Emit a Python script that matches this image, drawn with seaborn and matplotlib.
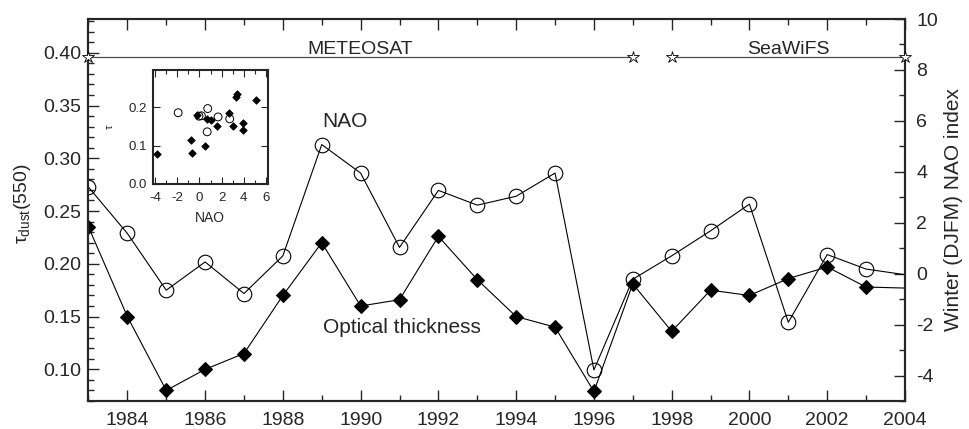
import matplotlib
matplotlib.use("Agg")
import matplotlib.pyplot as plt
from matplotlib.ticker import MultipleLocator, FormatStrFormatter
import numpy as np
import pandas as pd
import seaborn as sns

# ---------------- data ----------------
years = list(range(1983, 2005))
tau = [0.235, 0.150, 0.080, 0.100, 0.115, 0.170, 0.220, 0.160, 0.166, 0.226,
       0.185, 0.150, 0.140, 0.079, 0.181, 0.136, 0.175, 0.170, 0.186, 0.197,
       0.178, 0.177]
nao = [3.40, 1.58, -0.65, 0.46, -0.78, 0.70, 5.07, 3.95, 1.03, 3.27,
       2.69, 3.04, 3.95, -3.78, -0.22, 0.70, 1.68, 2.73, -1.91, 0.75,
       0.18, -0.04]
sensors = ["METEOSAT", "SeaWiFS"]
sensor_start = [1983, 1998]
sensor_end = [1997, 2004]
sensor_level = 8.5

# ---------------- style ----------------
sns.set_style("ticks")
plt.rcParams["font.family"] = ["Liberation Sans", "DejaVu Sans"]
plt.rcParams["mathtext.fontset"] = "custom"
plt.rcParams["mathtext.rm"] = "Liberation Sans"
plt.rcParams["mathtext.it"] = "Liberation Sans:italic"
plt.rcParams["axes.unicode_minus"] = False

df = pd.DataFrame({"year": years, "tau": tau, "nao": nao})
df["sensor"] = np.where(df["year"] <= sensor_end[0], sensors[0], sensors[1])

fig = plt.figure(figsize=(9.69, 4.29), dpi=100)
ax = fig.add_axes([0.0913, 0.0653, 0.8426, 0.8904])
ax2 = ax.twinx()

n_mark = list(range(len(years) - 1))
sns.lineplot(data=df, x="year", y="tau", ax=ax, color="black", lw=0.8,
             marker="D", markersize=7.5, markerfacecolor="black",
             markeredgecolor="black", markevery=n_mark)
sns.lineplot(data=df, x="year", y="nao", ax=ax2, color="black", lw=0.8,
             marker="o", markersize=10.5, markerfacecolor="none",
             markeredgecolor="black", markeredgewidth=0.8, markevery=n_mark)

# sensor periods
for name, s, e in zip(sensors, sensor_start, sensor_end):
    ax2.plot([s, e], [sensor_level, sensor_level], color="0.3", lw=0.9,
             marker="*", markersize=9, markerfacecolor="white",
             markeredgecolor="black", markeredgewidth=0.6, clip_on=False,
             zorder=5)
    ax2.text((s + e) / 2, sensor_level + 0.13, name, ha="center",
             va="baseline", fontsize=14)

ax2.text(1989.6, 5.76, "NAO", ha="center", va="baseline", fontsize=15)
ax.text(1991.06, 0.1347, "Optical thickness", ha="center", va="baseline",
        fontsize=15)

# axes formatting
ax.set_xlim(1983, 2004)
ax.set_ylim(0.07, 0.432)
ax2.set_ylim(-5, 10)
ax.xaxis.set_major_locator(MultipleLocator(2))
ax.xaxis.set_minor_locator(MultipleLocator(1))
ax.yaxis.set_major_locator(MultipleLocator(0.05))
ax.yaxis.set_minor_locator(MultipleLocator(0.01))
ax2.yaxis.set_major_locator(MultipleLocator(2))
ax2.yaxis.set_minor_locator(MultipleLocator(1))
ax.yaxis.set_major_formatter(FormatStrFormatter("%.2f"))

ax.tick_params(axis="x", which="both", direction="in", top=True, bottom=True,
               labelsize=14, pad=8)
ax.tick_params(axis="y", which="both", direction="in", left=True, right=False,
               labelsize=14, pad=5)
ax2.tick_params(axis="y", which="both", direction="in", right=True,
                left=False, labelsize=14, pad=8)
for a in (ax, ax2):
    a.tick_params(which="major", length=8, width=1.0)
    a.tick_params(which="minor", length=4, width=1.0)
    for sp in a.spines.values():
        sp.set_visible(True)
        sp.set_linewidth(1.5)

ax.set_xlabel("")
ax.set_ylabel(r"τ$_{\rm dust}$(550)", fontsize=14)
ax.yaxis.set_label_coords(-0.068, 0.517)
ax2.set_ylabel("Winter (DJFM) NAO index", fontsize=15, rotation=90)
ax2.yaxis.set_label_coords(1.048, 0.5)

# ---------------- inset ----------------
ins = fig.add_axes([0.1576, 0.5718, 0.1187, 0.265])
met = df[df["sensor"] == sensors[0]]
sea = df[df["sensor"] == sensors[1]]
sns.scatterplot(data=met, x="nao", y="tau", ax=ins, marker="D", s=15,
                color="black", edgecolor="black", linewidth=0.5, legend=False)
sns.scatterplot(data=sea, x="nao", y="tau", ax=ins, marker="o", s=32,
                facecolor="none", edgecolor="black", linewidth=0.7,
                legend=False)
ins.set_xlim(-4.2, 6.15)
ins.set_ylim(0, 0.298)
ins.xaxis.set_major_locator(MultipleLocator(2))
ins.xaxis.set_minor_locator(MultipleLocator(1))
ins.yaxis.set_major_locator(MultipleLocator(0.1))
ins.yaxis.set_major_formatter(FormatStrFormatter("%.1f"))
ins.tick_params(which="both", direction="in", top=True, right=True,
                labelsize=9.5, width=0.8)
ins.tick_params(axis="x", pad=6)
ins.tick_params(axis="y", pad=4)
ins.tick_params(which="major", length=5)
ins.tick_params(which="minor", length=3)
for sp in ins.spines.values():
    sp.set_visible(True)
    sp.set_linewidth(1.5)
ins.set_xlabel("NAO", fontsize=10, labelpad=5)
ins.set_ylabel("τ", fontsize=8, rotation=90)
ins.yaxis.set_label_coords(-0.33, 0.5)

fig.savefig("out.png", dpi=100)
